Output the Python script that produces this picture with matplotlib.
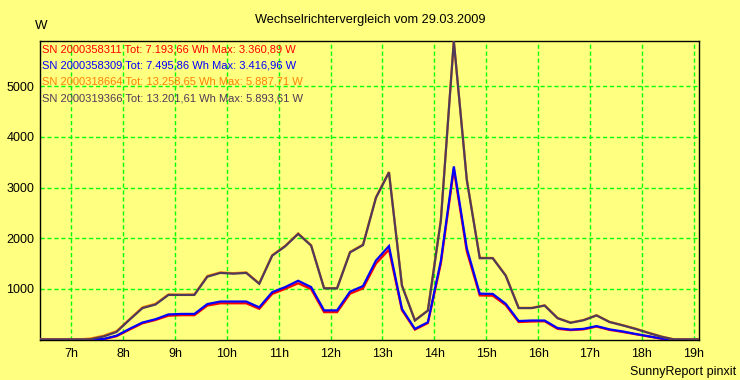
import numpy as np
import matplotlib
matplotlib.use("Agg")
import matplotlib.pyplot as plt

plt.rcParams['font.family'] = ['Liberation Sans', 'DejaVu Sans']

# 15-minute samples from 06:22:30 to 19:07:30
times = np.arange(6.375, 19.126, 0.25)

sn_red = [0, 0, 0, 0, 0, 5, 65, 195, 320, 385, 470, 480, 480, 670, 715, 715, 715, 605,
          900, 1000, 1110, 995, 540, 540, 905, 1010, 1500, 1775, 580, 195, 325, 1500,
          3360.89, 1740, 870, 865, 680, 345, 355, 360, 210, 185, 200, 255, 190, 150, 105,
          60, 15, 0, 0, 0]
sn_blue = [0, 0, 0, 0, 0, 10, 75, 210, 335, 400, 495, 505, 505, 700, 750, 750, 750, 635,
           935, 1035, 1160, 1035, 575, 575, 945, 1055, 1560, 1845, 605, 210, 340, 1550,
           3416.96, 1800, 905, 900, 705, 365, 375, 375, 225, 195, 210, 265, 200, 160, 110,
           65, 20, 0, 0, 0]
sn_orange = [0, 0, 0, 0, 20, 75, 165, 400, 635, 705, 890, 885, 890, 1255, 1325, 1310, 1325, 1110,
             1665, 1850, 2095, 1860, 1015, 1015, 1730, 1875, 2810, 3310, 1070, 380, 575, 2360,
             5887.71, 3160, 1615, 1610, 1270, 625, 625, 675, 425, 335, 385, 480, 350, 285, 215,
             135, 60, 0, 0, 0]
sn_brown = [0, 0, 0, 0, 5, 60, 150, 390, 620, 690, 880, 880, 880, 1240, 1315, 1300, 1315, 1100,
            1655, 1840, 2085, 1855, 1010, 1010, 1720, 1865, 2800, 3300, 1065, 375, 570, 2350,
            5893.61, 3150, 1605, 1605, 1260, 620, 620, 670, 420, 330, 380, 475, 345, 280, 210,
            130, 55, 0, 0, 0]

legend_texts = [
    "SN 2000358311 Tot: 7.193,66 Wh Max: 3.360,89 W",
    "SN 2000358309 Tot: 7.495,86 Wh Max: 3.416,96 W",
    "SN 2000318664 Tot: 13.258,65 Wh Max: 5.887,71 W",
    "SN 2000319366 Tot: 13.201,61 Wh Max: 5.893,61 W",
]
colors = ['#FF0000', '#0000FF', '#FF8000', '#4F3A5A']

hours = list(range(7, 20))
hour_labels = [f"{h}h" for h in hours]
yticks = [1000, 2000, 3000, 4000, 5000]

bg = '#FFFF80'
fig = plt.figure(figsize=(7.4, 3.8), dpi=100, facecolor=bg)
ax = fig.add_axes([40/740, (380-339.5)/380, (699-40)/740, (339.5-41)/380])
ax.set_facecolor(bg)

for vals, c in zip([sn_red, sn_blue, sn_orange, sn_brown], colors):
    ax.plot(times, vals, color=c, lw=1.6, solid_joinstyle='miter', zorder=3)

ax.set_xlim(6.4, 19.1)
ax.set_ylim(0, 5894)
ax.set_xticks(hours)
ax.set_xticklabels(hour_labels)
ax.set_yticks(yticks)
ax.set_yticklabels([str(v) for v in yticks])
ax.tick_params(length=0, labelsize=9, pad=4)
ax.tick_params(axis='x', pad=6)
ax.grid(True, color='#00FF00', lw=1.0, linestyle=(0, (3, 2)), zorder=1)
for s in ax.spines.values():
    s.set_color('black')
    s.set_linewidth(1.0)

for i, (t, c) in enumerate(zip(legend_texts, colors)):
    fig.text(42/740, 1 - (49.5 + 16.2*i)/380, t, color=c, fontsize=8, ha='left', va='center')

fig.text(370/740, 1 - 20/380, "Wechselrichtervergleich vom 29.03.2009", fontsize=9.2,
         ha='center', va='center')
fig.text(41/740, 1 - 26/380, "W", fontsize=9.5, ha='center', va='center')
fig.text(736/740, 1 - 372/380, "SunnyReport pinxit", fontsize=9, ha='right', va='center')

fig.savefig("out.png", dpi=100, facecolor=bg)
